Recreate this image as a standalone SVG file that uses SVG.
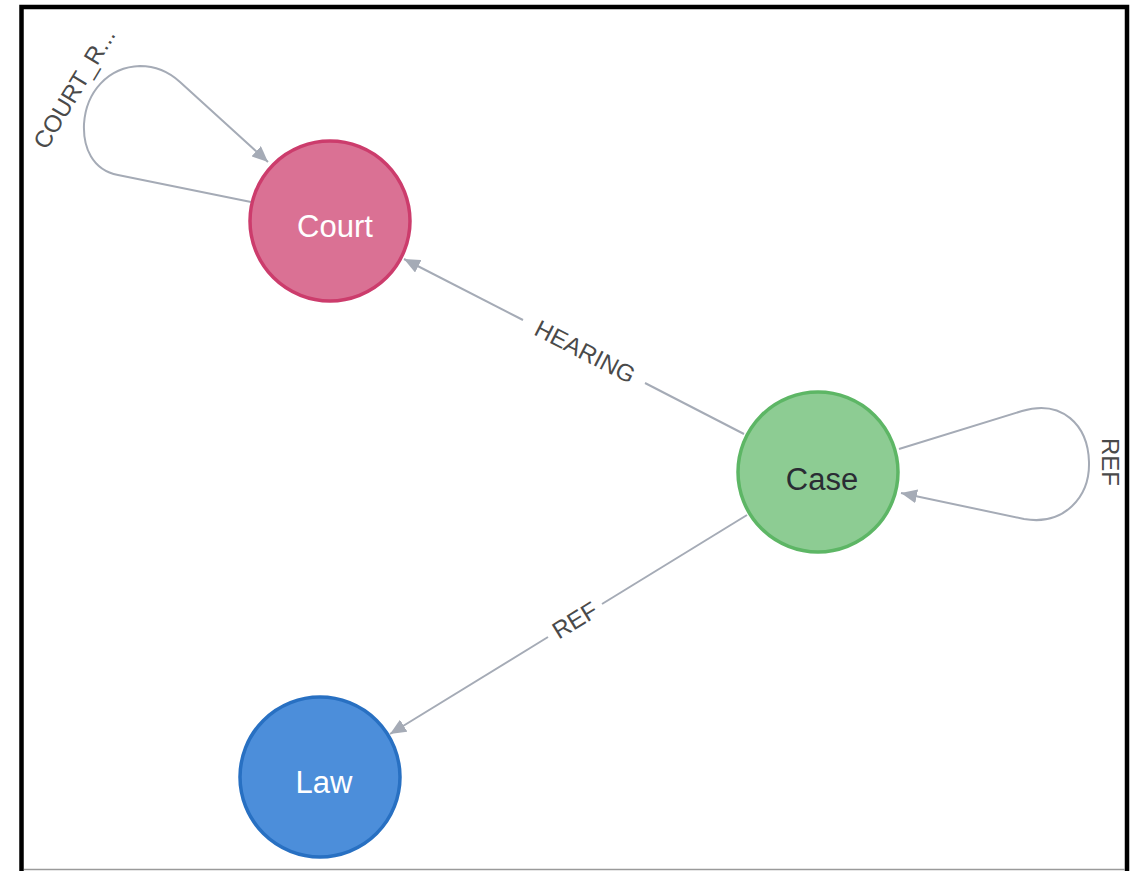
<svg xmlns="http://www.w3.org/2000/svg" width="1140" height="871" viewBox="0 0 1140 871">
  <style>
    .edge { fill: none; stroke: #A5ABB6; stroke-width: 2; }
    .elabel { font-family: "Liberation Sans", Arial, sans-serif; font-size: 24px; fill: #4A4A4A; text-anchor: middle; }
    .nlabel { font-family: "Liberation Sans", Arial, sans-serif; font-size: 31px; text-anchor: middle; }
    .court circle { fill: #DA7194; stroke: #CC3C6C; stroke-width: 3.5; }
    .case circle { fill: #8DCC93; stroke: #5DB665; stroke-width: 3.5; }
    .law circle { fill: #4C8EDA; stroke: #2870C2; stroke-width: 3.5; }
  </style>
  <defs>
    <marker id="arrow" viewBox="0 0 16 14" refX="16" refY="7" markerWidth="16" markerHeight="14" markerUnits="userSpaceOnUse" orient="auto">
      <path d="M0,0 L16,7 L0,14 Z" fill="#A5ABB6"/>
    </marker>
  </defs>

  <rect x="0" y="0" width="1140" height="871" fill="#FFFFFF"/>

  <!-- frame -->
  <rect x="21.5" y="7" width="1105.5" height="880" fill="none" stroke="#000000" stroke-width="4.5"/>
  <line x1="24" y1="869.5" x2="1125" y2="869.5" stroke="#9A9A9A" stroke-width="1.5"/>

  <!-- relationships -->
  <g id="connectors">
    <!-- Case -HEARING-> Court -->
    <path class="edge" d="M744 434 L645 383"/>
    <path class="edge" d="M523 320 L404 259" marker-end="url(#arrow)"/>
    <text class="elabel" transform="translate(585 352) rotate(27.2)" y="8">HEARING</text>

    <!-- Case -REF-> Law -->
    <path class="edge" d="M747 515 L602 604"/>
    <path class="edge" d="M548 637 L390 734" marker-end="url(#arrow)"/>
    <text class="elabel" transform="translate(575 620.5) rotate(-31.5)" y="8">REF</text>

    <!-- Court self relationship -->
    <path class="edge" d="M251 202 L118 175 C92 170 83 147 84 124 C86 92 108 67 140 66 C156 66 168 71 180 82 L268 162" marker-end="url(#arrow)"/>
    <text class="elabel" transform="translate(74.5 88.5) rotate(-59)" y="8">COURT_R...</text>

    <!-- Case self relationship -->
    <path class="edge" d="M899 449 L1022 411 C1062 399 1088 425 1089 462 C1090 497 1064 526 1024 519 L901 493" marker-end="url(#arrow)"/>
    <text class="elabel" transform="translate(1110 462) rotate(90)" y="8">REF</text>
  </g>

  <!-- nodes -->
  <g id="node-court" class="court">
    <circle cx="330" cy="221" r="80"/>
    <text class="nlabel" x="335" y="237" fill="#FFFFFF">Court</text>
  </g>
  <g id="node-case" class="case">
    <circle cx="818" cy="472" r="80"/>
    <text class="nlabel" x="822" y="490" fill="#2A2C34">Case</text>
  </g>
  <g id="node-law" class="law">
    <circle cx="320" cy="777" r="80"/>
    <text class="nlabel" x="324" y="793" fill="#FFFFFF">Law</text>
  </g>
</svg>
